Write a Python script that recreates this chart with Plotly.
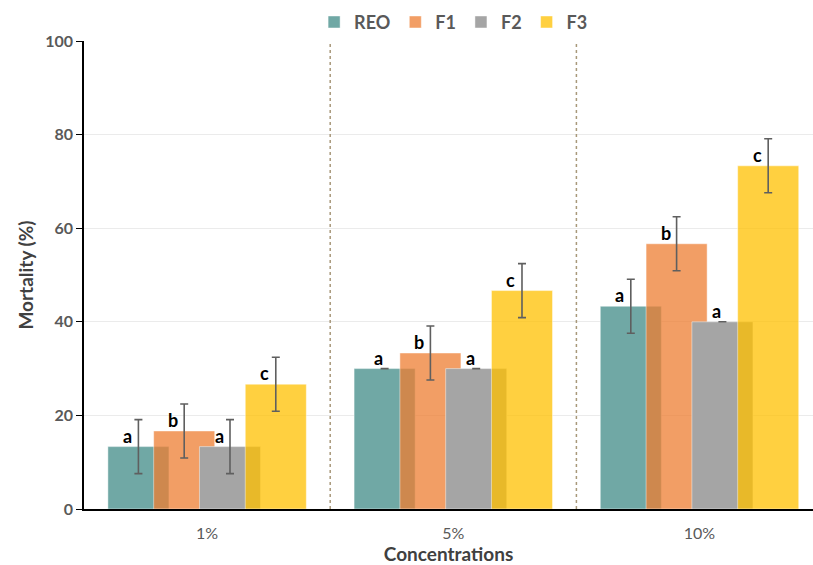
import plotly.graph_objects as go

# Mortality by concentration for the four treatments
concentrations = ["1%", "5%", "10%"]
series_names = ["REO", "F1", "F2", "F3"]
reo_mean = [13.33, 30.0, 43.33]
reo_sd = [5.77, 0.0, 5.77]
f1_mean = [16.67, 33.33, 56.67]
f1_sd = [5.77, 5.77, 5.77]
f2_mean = [13.33, 30.0, 40.0]
f2_sd = [5.77, 0.0, 0.0]
f3_mean = [26.67, 46.67, 73.33]
f3_sd = [5.77, 5.77, 5.77]
reo_letters = ["a", "a", "a"]
f1_letters = ["b", "b", "b"]
f2_letters = ["a", "a", "a"]
f3_letters = ["c", "c", "c"]

means = [reo_mean, f1_mean, f2_mean, f3_mean]
sds = [reo_sd, f1_sd, f2_sd, f3_sd]
letters = [reo_letters, f1_letters, f2_letters, f3_letters]
colors = ["rgb(112,168,165)", "rgba(237,125,49,0.75)",
          "rgb(165,165,165)", "rgba(255,192,0,0.75)"]

BAR_W = 0.248      # bar width in category units
STEP = 0.186       # centre-to-centre spacing (bars overlap)
FONT = "Lato"
x_idx = list(range(len(concentrations)))

fig = go.Figure()
annotations = []
for i, name in enumerate(series_names):
    centre = (i - 1.5) * STEP
    fig.add_trace(go.Bar(
        name=name,
        x=x_idx,
        y=means[i],
        width=BAR_W,
        offset=centre - BAR_W / 2,
        marker=dict(color=colors[i],
                    line=dict(color="rgba(255,255,255,0.45)", width=1)),
        error_y=dict(type="data", array=sds[i], visible=True,
                     color="#5f5f5f", thickness=1.6, width=4),
    ))
    for j in x_idx:
        annotations.append(dict(
            x=j + centre, y=means[i][j], xref="x", yref="y",
            text=letters[i][j], showarrow=False,
            xshift=-11 if sds[i][j] > 0 else -6, yshift=11,
            font=dict(family=FONT, size=18, color="black", weight="bold"),
        ))

# dotted separators between concentration groups
shapes = [dict(type="line", xref="x", yref="y", x0=b, x1=b, y0=0, y1=100,
               line=dict(color="#a8987a", width=1.5, dash="dot"))
          for b in (0.5, 1.5)]

fig.update_layout(
    width=813, height=565,
    margin=dict(l=84, r=0, t=41, b=56),
    plot_bgcolor="white", paper_bgcolor="white",
    barmode="overlay",
    font=dict(family=FONT, color="#595959"),
    showlegend=True,
    legend=dict(orientation="h", x=0.507, xanchor="center",
                y=1.04, yanchor="middle",
                font=dict(family=FONT, size=18, color="#595959", weight="bold"),
                itemwidth=30, bgcolor="rgba(0,0,0,0)"),
    shapes=shapes,
    annotations=annotations,
    xaxis=dict(
        tickmode="array", tickvals=x_idx, ticktext=concentrations,
        range=[-0.5, 2.461], showgrid=False, zeroline=False,
        showline=True, linecolor="black", linewidth=2, ticks="",
        ticklabelstandoff=9, automargin=False,
        tickfont=dict(family=FONT, size=16, color="#595959"),
        title=dict(text="Concentrations", standoff=14,
                   font=dict(family=FONT, size=19, color="#404040", weight="bold")),
    ),
    yaxis=dict(
        range=[0, 100], tickvals=[0, 20, 40, 60, 80, 100],
        showgrid=True, gridcolor="#ebebeb", gridwidth=1, zeroline=False,
        showline=True, linecolor="black", linewidth=1.5,
        ticks="outside", ticklen=6, tickcolor="black", tickwidth=1,
        automargin=False,
        tickfont=dict(family=FONT, size=16, color="#595959", weight="bold"),
        title=dict(text="Mortality (%)", standoff=7,
                   font=dict(family=FONT, size=19, color="#404040", weight="bold")),
    ),
)

fig.write_html("out.html")
